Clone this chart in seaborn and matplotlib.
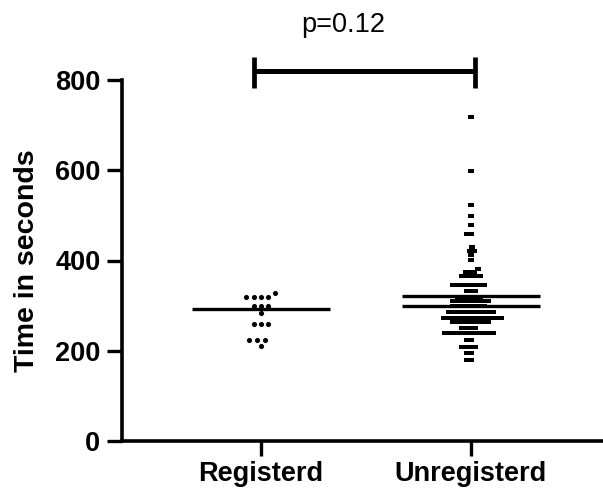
import numpy as np
import pandas as pd
import seaborn as sns
import matplotlib.pyplot as plt
from matplotlib.path import Path
from matplotlib.transforms import Affine2D

sns.set_style("ticks")
plt.rcParams['font.family'] = ['Liberation Sans', 'DejaVu Sans']
plt.rcParams.update({'text.color': 'black', 'axes.labelcolor': 'black',
                     'xtick.color': 'black', 'ytick.color': 'black',
                     'axes.edgecolor': 'black'})

groups = ["Registerd", "Unregisterd"]

# registered visits
registerd_times = [329, 320, 320, 320, 320, 300, 300, 300, 284,
                   259, 259, 259, 224, 224, 224, 211]

# unregistered: each row of the square swarm, value and how many squares
unreg_levels = [719, 599, 523, 499, 479, 458, 429, 421, 412, 401, 381, 375,
                366, 346, 333, 320, 310, 300, 286, 273, 264, 251, 239, 224,
                208, 195, 180]
unreg_counts = [1, 1, 1, 1, 1, 2, 1, 2, 1, 1, 1, 3,
                5, 8, 3, 6, 9, 8, 11, 14, 9, 4, 12, 2,
                4, 2, 2]

# horizontal summary lines per group
registerd_lines = [292]
unregisterd_lines = [321, 300]

p_text = "p=0.12"

reg = pd.DataFrame({"group": "Registerd", "time": registerd_times})
unreg = pd.DataFrame({"group": "Unregisterd",
                      "time": np.repeat(unreg_levels, unreg_counts)})

fig = plt.figure(figsize=(6.03, 4.96), dpi=100)
ax = fig.add_axes([122 / 603, 55 / 496, 1 - 122 / 603, 361 / 496])

sns.swarmplot(data=reg, x="group", y="time", order=groups, marker="o",
              size=4.4, color="black", edgecolor="white", linewidth=0.7, ax=ax)
sns.swarmplot(data=unreg, x="group", y="time", order=groups, marker="s",
              size=3.0, color="black", linewidth=0, ax=ax)
# swarm leaves a 5% gap between markers; draw the squares a bit wider than
# their slot so a row of them reads as one bar, as in the original
sq = Path.unit_rectangle().transformed(Affine2D().translate(-0.5, -0.5).scale(1.22, 1.1))
ax.collections[-1].set_paths([sq])

# summary lines
for i, vals in enumerate([registerd_lines, unregisterd_lines]):
    ax.hlines(vals, i - 0.33, i + 0.33, color="black", lw=2.4, zorder=5)

ax.set_xlim(-0.662, 1.629)
ax.set_ylim(0, 800)
ax.set_yticks(range(0, 801, 200))
ax.set_xlabel("")
ax.set_ylabel("Time in seconds", fontsize=20.5, fontweight="bold", labelpad=11)

for s in ["top", "right"]:
    ax.spines[s].set_visible(False)
for s in ["left", "bottom"]:
    ax.spines[s].set_linewidth(2.6)
ax.tick_params(axis="both", length=10.5, width=2.4, labelsize=19.5, color="black")
ax.tick_params(axis="y", pad=5)
ax.tick_params(axis="x", pad=4)
for lab in ax.get_xticklabels() + ax.get_yticklabels():
    lab.set_fontweight("bold")

# significance bracket
ax.plot([-0.035, 1.02], [819, 819], color="black", lw=3.6, clip_on=False,
        solid_capstyle="butt")
for xb in [-0.035, 1.02]:
    ax.plot([xb, xb], [782, 852], color="black", lw=3.4, clip_on=False,
            solid_capstyle="butt")
ax.text(0.39, 907, p_text, ha="center", va="baseline", fontsize=19.5,
        clip_on=False)

fig.savefig("out.png", dpi=100)
